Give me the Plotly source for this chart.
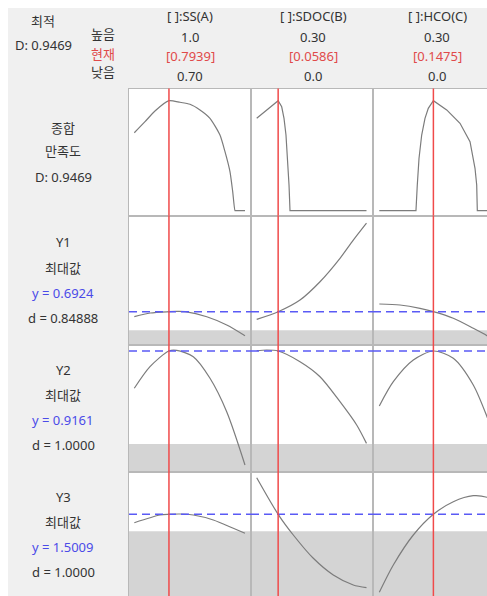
import plotly.graph_objects as go

# ---- factor settings -------------------------------------------------------
factor_names = ["SS(A)", "SDOC(B)", "HCO(C)"]
high_labels = ["1.0", "0.30", "0.30"]
low_labels = ["0.70", "0.0", "0.0"]
current = [0.7939, 0.0586, 0.1475]

# ---- responses -------------------------------------------------------------
composite_D = 0.9469
resp_names = ["Y1", "Y2", "Y3"]
resp_goal = "최대값"
resp_y = [0.6924, 0.9161, 1.5009]
resp_d = ["0.84888", "1.0000", "1.0000"]
resp_lower = [0.65, 0.60, 1.45]

# ---- profile curves (x = factor level, y = response) -----------------------
# composite desirability
D_A_x = [0.70, 0.729, 0.756, 0.7939, 0.8237, 0.8509, 0.878, 0.9051, 0.9322, 0.9458, 0.9593, 0.9667, 0.9729, 0.9745, 1.0]
D_A_y = [0.671, 0.766, 0.858, 0.9469, 0.933, 0.916, 0.867, 0.795, 0.651, 0.508, 0.336, 0.164, 0.0, 0.0, 0.0]
D_B_x = [0.0, 0.0586, 0.0683, 0.0746, 0.080, 0.0846, 0.0883, 0.0910, 0.30]
D_B_y = [0.795, 0.9469, 0.894, 0.795, 0.651, 0.451, 0.221, 0.0, 0.0]
D_C_x = [0.0, 0.100, 0.1036, 0.1083, 0.1156, 0.1246, 0.1336, 0.1475, 0.1838, 0.2201, 0.2474, 0.261, 0.2656, 0.2673, 0.30]
D_C_y = [0.0, 0.0, 0.221, 0.451, 0.651, 0.795, 0.881, 0.9469, 0.867, 0.752, 0.594, 0.365, 0.221, 0.0, 0.0]

# Y1
Y1_A_x = [0.70, 0.7432, 0.7939, 0.815, 0.8378, 0.8965, 0.9505, 1.0]
Y1_A_y = [0.6809, 0.6894, 0.6924, 0.6930, 0.6924, 0.6809, 0.6618, 0.6372]
Y1_B_x = [0.0, 0.0586, 0.1183, 0.1730, 0.2276, 0.2639, 0.30]
Y1_B_y = [0.6749, 0.6924, 0.7193, 0.7614, 0.8152, 0.8573, 0.8964]
Y1_C_x = [0.0, 0.0565, 0.111, 0.1475, 0.2018, 0.2563, 0.2937, 0.30]
Y1_C_y = [0.7101, 0.7078, 0.7002, 0.6924, 0.6772, 0.6542, 0.6372, 0.6335]

# Y2
Y2_A_x = [0.70, 0.7425, 0.7939, 0.815, 0.8599, 0.9052, 0.9504, 1.0]
Y2_A_y = [0.7893, 0.8627, 0.9161, 0.9180, 0.8967, 0.8233, 0.7097, 0.5285]
Y2_B_x = [0.0, 0.0273, 0.0586, 0.1183, 0.1730, 0.2276, 0.2732, 0.30]
Y2_B_y = [0.9171, 0.9195, 0.9161, 0.8797, 0.8287, 0.7437, 0.6645, 0.602]
Y2_C_x = [0.0, 0.0382, 0.0927, 0.1475, 0.2018, 0.2563, 0.2937, 0.30]
Y2_C_y = [0.7291, 0.8117, 0.8855, 0.9161, 0.8913, 0.8005, 0.6927, 0.6713]

# Y3
Y3_A_x = [0.70, 0.7696, 0.7939, 0.8237, 0.8599, 0.9141, 0.9683, 1.0]
Y3_A_y = [1.4757, 1.4988, 1.5009, 1.5018, 1.4988, 1.4838, 1.4589, 1.4439]
Y3_B_x = [0.0, 0.0586, 0.1000, 0.1547, 0.2093, 0.2639, 0.30]
Y3_B_y = [1.6107, 1.5009, 1.4388, 1.3689, 1.3188, 1.2888, 1.2807]
Y3_C_x = [0.0, 0.0382, 0.0927, 0.1475, 0.2018, 0.2563, 0.2937, 0.30]
Y3_C_y = [1.2669, 1.3488, 1.4388, 1.5009, 1.5387, 1.5567, 1.5519, 1.5483]

curves = [
    [(D_A_x, D_A_y), (D_B_x, D_B_y), (D_C_x, D_C_y)],
    [(Y1_A_x, Y1_A_y), (Y1_B_x, Y1_B_y), (Y1_C_x, Y1_C_y)],
    [(Y2_A_x, Y2_A_y), (Y2_B_x, Y2_B_y), (Y2_C_x, Y2_C_y)],
    [(Y3_A_x, Y3_A_y), (Y3_B_x, Y3_B_y), (Y3_C_x, Y3_C_y)],
]

# ---- layout geometry (pixels) ----------------------------------------------
W, H = 487, 596
col_px = [(129, 251), (251, 373), (373, 487)]
row_px = [(88.5, 215.5), (215.5, 345), (345, 472), (472, 596)]
x_ranges = [(0.6856, 1.0163), (-0.0156, 0.3178), (-0.0172, 0.2937)]
y_ranges = [(-0.0413, 1.0516), (0.6158, 0.9137), (0.5047, 0.9365), (1.2558, 1.6278)]

FONT = "Noto Sans, Noto Sans CJK KR, sans-serif"
TXT = "#333333"
RED = "#e04a4a"
BLUE = "#4b4be8"
CURVE = "#7c7c7c"
BORDER = "#b8b8b8"
BAND = "#d4d4d4"


def px(x):
    return x / W


def py(y):
    return 1 - y / H


fig = go.Figure()
layout = dict(
    width=W, height=H, autosize=False,
    margin=dict(l=0, r=0, t=0, b=0),
    paper_bgcolor="#f0f0f0", plot_bgcolor="white",
    showlegend=False,
)
shapes = []
annotations = []

for r in range(4):
    for c in range(3):
        i = r * 3 + c + 1
        xa = "xaxis" if i == 1 else f"xaxis{i}"
        ya = "yaxis" if i == 1 else f"yaxis{i}"
        xr = "x" if i == 1 else f"x{i}"
        yr = "y" if i == 1 else f"y{i}"
        last_row = r == 3
        layout[xa] = dict(
            domain=[px(col_px[c][0]), px(col_px[c][1])],
            range=list(x_ranges[c]), anchor=yr,
            showgrid=False, zeroline=False, showticklabels=False, ticks="",
            showline=True, linecolor=BORDER, linewidth=1,
            mirror=not last_row, side="top" if last_row else "bottom",
            fixedrange=True,
        )
        layout[ya] = dict(
            domain=[py(row_px[r][1]), py(row_px[r][0])],
            range=list(y_ranges[r]), anchor=xr,
            showgrid=False, zeroline=False, showticklabels=False, ticks="",
            showline=True, linecolor=BORDER, linewidth=1,
            mirror=(c != 2), fixedrange=True,
        )
        xs, ys = curves[r][c]
        smooth = not (r == 0 and c > 0)
        fig.add_trace(go.Scatter(
            x=xs, y=ys, mode="lines", xaxis=xr, yaxis=yr,
            line=dict(color=CURVE, width=1.2,
                      shape="spline" if smooth else "linear",
                      smoothing=0.6 if r == 0 else 0.8),
            hoverinfo="skip",
        ))
        # region below the lower bound of each response
        if r > 0:
            shapes.append(dict(
                type="rect", xref=f"{xr} domain", yref=yr,
                x0=0, x1=1, y0=y_ranges[r][0], y1=resp_lower[r - 1],
                fillcolor=BAND, line=dict(width=0), layer="below",
            ))
            shapes.append(dict(
                type="line", xref=f"{xr} domain", yref=yr,
                x0=0, x1=1, y0=resp_y[r - 1], y1=resp_y[r - 1],
                line=dict(color="#5a5af5", width=1.5, dash="8px,5px"),
                layer="above",
            ))
        # current factor setting
        shapes.append(dict(
            type="line", xref=xr, yref=f"{yr} domain",
            x0=current[c], x1=current[c], y0=0, y1=1,
            line=dict(color="#f04a4a", width=1.5), layer="above",
        ))

# white frame strips along the top and left edges
shapes.append(dict(type="rect", xref="paper", yref="paper", x0=0, x1=px(8), y0=0, y1=1,
                   fillcolor="white", line=dict(width=0), layer="below"))
shapes.append(dict(type="rect", xref="paper", yref="paper", x0=0, x1=1, y0=py(8), y1=1,
                   fillcolor="white", line=dict(width=0), layer="below"))


def label(x, y, text, color=TXT, size=13):
    annotations.append(dict(
        x=px(x), y=py(y), xref="paper", yref="paper", text=text,
        showarrow=False, xanchor="center", yanchor="middle",
        font=dict(family=FONT, size=size, color=color),
    ))


# header: optimum and High / Cur / Low
label(43, 21, "최적")
label(43, 45, f"D: {composite_D:.4f}")
label(103, 34.5, "높음")
label(103, 53.5, "현재", RED)
label(103, 72, "낮음")

col_centres = [190, 313, 437]
for c in range(3):
    cx = col_centres[c]
    label(cx, 16.5, f"[ ]:{factor_names[c]}")
    label(cx, 36.5, high_labels[c])
    label(cx, 56.5, f"[{current[c]:.4f}]", RED)
    label(cx, 76, low_labels[c])

# row labels
label(63, 127.5, "종합")
label(63, 151.5, "만족도")
label(63, 177.5, f"D: {composite_D:.4f}")

row_text_y = [
    (241.5, 267.5, 292.5, 317.5),
    (369.5, 395, 420, 444.5),
    (496.5, 521.5, 546.5, 572),
]
for k in range(3):
    y1, y2, y3, y4 = row_text_y[k]
    label(63, y1, resp_names[k])
    label(63, y2, resp_goal)
    label(63, y3, f"y = {resp_y[k]:.4f}", BLUE)
    label(63, y4, f"d = {resp_d[k]}")

layout["shapes"] = shapes
layout["annotations"] = annotations
fig.update_layout(**layout)
fig.write_html("out.html")
